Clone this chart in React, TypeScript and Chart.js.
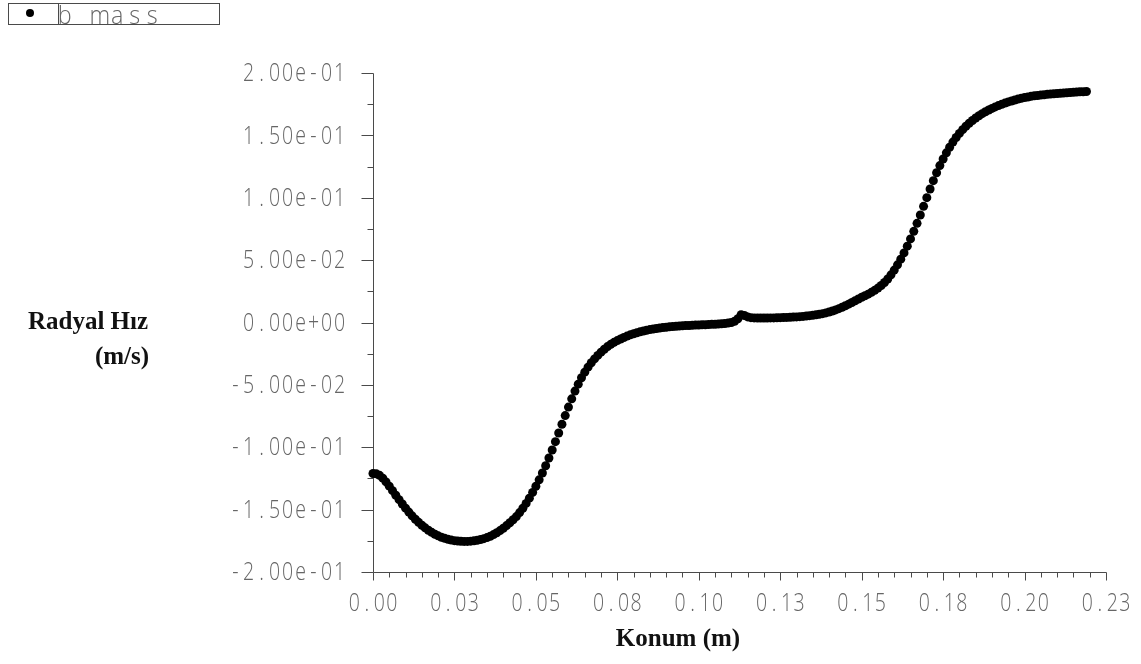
import { useEffect, useRef } from "react";
import { Chart, registerables } from "chart.js";

Chart.register(...registerables);

// Sample positions along the channel, in millimetres.
const POSITION_MM = [
  0, 1, 2, 3, 4, 5, 6, 7, 8, 9, 10, 11, 12, 13, 14, 15, 16, 17, 18, 19,
  20, 21, 22, 23, 24, 25, 26, 27, 28, 29, 30, 31, 32, 33, 34, 35, 36, 37, 38, 39,
  40, 41, 42, 43, 44, 45, 46, 47, 48, 49, 50, 51, 52, 53, 54, 55, 56, 57, 58, 59,
  60, 61, 62, 63, 64, 65, 66, 67, 68, 69, 70, 71, 72, 73, 74, 75, 76, 77, 78, 79,
  80, 81, 82, 83, 84, 85, 86, 87, 88, 89, 90, 91, 92, 93, 94, 95, 96, 97, 98, 99,
  100, 101, 102, 103, 104, 105, 106, 107, 108, 109, 110, 111, 112, 113, 114, 115, 116, 117, 118, 119,
  120, 121, 122, 123, 124, 125, 126, 127, 128, 129, 130, 131, 132, 133, 134, 135, 136, 137, 138, 139,
  140, 141, 142, 143, 144, 145, 146, 147, 148, 149, 150, 151, 152, 153, 154, 155, 156, 157, 158, 159,
  160, 161, 162, 163, 164, 165, 166, 167, 168, 169, 170, 171, 172, 173, 174, 175, 176, 177, 178, 179,
  180, 181, 182, 183, 184, 185, 186, 187, 188, 189, 190, 191, 192, 193, 194, 195, 196, 197, 198, 199,
  200, 201, 202, 203, 204, 205, 206, 207, 208, 209, 210, 211, 212, 213, 214, 215, 216, 217, 218, 219,
];

// Radial velocity (m/s) at each position above.
const RADIAL_VELOCITY = [
  -0.1210, -0.1213, -0.1225, -0.1248, -0.1278, -0.1312, -0.1348, -0.1385, -0.1420, -0.1455,
  -0.1488, -0.1520, -0.1550, -0.1577, -0.1602, -0.1625, -0.1646, -0.1665, -0.1682, -0.1697,
  -0.1710, -0.1721, -0.1730, -0.1738, -0.1744, -0.1749, -0.1752, -0.1754, -0.1755, -0.1755,
  -0.1753, -0.1750, -0.1746, -0.1740, -0.1733, -0.1724, -0.1713, -0.1700, -0.1685, -0.1668,
  -0.1649, -0.1628, -0.1605, -0.1581, -0.1556, -0.1524, -0.1489, -0.1450, -0.1408, -0.1362,
  -0.1313, -0.1261, -0.1206, -0.1148, -0.1086, -0.1022, -0.0955, -0.0886, -0.0816, -0.0746,
  -0.0678, -0.0612, -0.0550, -0.0494, -0.0443, -0.0398, -0.0358, -0.0323, -0.0292, -0.0264,
  -0.0238, -0.0214, -0.0193, -0.0175, -0.0159, -0.0145, -0.0132, -0.0120, -0.0109, -0.0099,
  -0.0090, -0.0082, -0.0075, -0.0068, -0.0062, -0.0057, -0.0052, -0.0048, -0.0044, -0.0041,
  -0.0038, -0.0035, -0.0033, -0.0031, -0.0029, -0.0027, -0.0025, -0.0024, -0.0022, -0.0021,
  -0.0020, -0.0019, -0.0018, -0.0017, -0.0015, -0.0014, -0.0012, -0.0010, -0.0008, -0.0005,
  0.0000, 0.0010, 0.0030, 0.0062, 0.0056, 0.0045, 0.0039, 0.0037, 0.0036, 0.0036,
  0.0036, 0.0036, 0.0037, 0.0037, 0.0038, 0.0039, 0.0040, 0.0041, 0.0042, 0.0044,
  0.0045, 0.0047, 0.0049, 0.0052, 0.0055, 0.0058, 0.0062, 0.0066, 0.0071, 0.0077,
  0.0084, 0.0092, 0.0101, 0.0111, 0.0122, 0.0134, 0.0147, 0.0160, 0.0174, 0.0188,
  0.0202, 0.0214, 0.0227, 0.0242, 0.0258, 0.0276, 0.0297, 0.0321, 0.0349, 0.0382,
  0.0420, 0.0462, 0.0508, 0.0558, 0.0612, 0.0670, 0.0731, 0.0795, 0.0862, 0.0931,
  0.1001, 0.1070, 0.1137, 0.1200, 0.1258, 0.1311, 0.1360, 0.1405, 0.1446, 0.1483,
  0.1516, 0.1546, 0.1573, 0.1597, 0.1619, 0.1639, 0.1657, 0.1674, 0.1689, 0.1703,
  0.1716, 0.1728, 0.1739, 0.1749, 0.1759, 0.1768, 0.1776, 0.1784, 0.1791, 0.1797,
  0.1803, 0.1808, 0.1813, 0.1817, 0.1820, 0.1823, 0.1826, 0.1829, 0.1831, 0.1833,
  0.1835, 0.1837, 0.1839, 0.1841, 0.1843, 0.1845, 0.1847, 0.1849, 0.1850, 0.1852,
];

const SERIES_LABEL = "b mass";

const X_TICKS = [0, 0.025, 0.05, 0.075, 0.1, 0.125, 0.15, 0.175, 0.2, 0.225];
const X_TICK_LABELS = ["0.00", "0.03", "0.05", "0.08", "0.10", "0.13", "0.15", "0.18", "0.20", "0.23"];
const X_MINOR_PER_MAJOR = 5;

const Y_TICKS = [0.2, 0.15, 0.1, 0.05, 0, -0.05, -0.1, -0.15, -0.2];
const Y_TICK_LABELS = [
  "2.00e-01", "1.50e-01", "1.00e-01", "5.00e-02", "0.00e+00",
  "-5.00e-02", "-1.00e-01", "-1.50e-01", "-2.00e-01",
];
const Y_MINOR_PER_MAJOR = 2;

const Y_TITLE_LINES = ["Radyal Hız", "(m/s)"];
const X_TITLE = "Konum (m)";

const AXIS_COLOR = "#4a4a4a";
const TICK_TEXT_COLOR = "#666666";
const TICK_FONT = "300 25px 'Open Sans', 'DejaVu Sans', sans-serif";
const LEGEND_FONT = "300 26px 'Open Sans', 'DejaVu Sans', sans-serif";
const TITLE_FONT = "bold 25px 'Liberation Serif', serif";

// Draws text on a fixed character grid with narrowed glyphs, like a plotter stroke font.
function drawGridText(
  ctx: CanvasRenderingContext2D,
  text: string,
  x: number,
  y: number,
  advance: number,
  align: "left" | "right" | "center",
  squeeze: number,
) {
  const total = advance * text.length;
  const start = align === "left" ? x : align === "right" ? x - total : x - total / 2;
  ctx.textAlign = "center";
  for (let i = 0; i < text.length; i++) {
    ctx.save();
    ctx.translate(start + advance * (i + 0.5), y);
    ctx.scale(squeeze, 1);
    ctx.fillText(text[i], 0, 0);
    ctx.restore();
  }
}

const framePlugin = {
  id: "plotterFrame",
  beforeDatasetsDraw(chart: any) {
    const { ctx, scales } = chart;
    const xs = scales.x;
    const ys = scales.y;
    const ax = Math.round(xs.getPixelForValue(0)) + 0.5;
    const ay = Math.round(ys.getPixelForValue(-0.2)) + 0.5;
    const yTop = Math.round(ys.getPixelForValue(0.2)) + 0.5;
    const xRight = Math.round(xs.getPixelForValue(0.225)) + 0.5;

    ctx.save();
    ctx.strokeStyle = AXIS_COLOR;
    ctx.lineWidth = 1;
    ctx.beginPath();
    // vertical axis
    ctx.moveTo(ax, yTop);
    ctx.lineTo(ax, ay);
    // horizontal axis
    ctx.moveTo(ax, ay);
    ctx.lineTo(xRight, ay);

    // y ticks (major + minor), pointing left
    for (let i = 0; i < Y_TICKS.length; i++) {
      const py = Math.round(ys.getPixelForValue(Y_TICKS[i])) + 0.5;
      ctx.moveTo(ax - 12, py);
      ctx.lineTo(ax, py);
      if (i < Y_TICKS.length - 1) {
        const step = (Y_TICKS[i + 1] - Y_TICKS[i]) / Y_MINOR_PER_MAJOR;
        for (let k = 1; k < Y_MINOR_PER_MAJOR; k++) {
          const my = Math.round(ys.getPixelForValue(Y_TICKS[i] + step * k)) + 0.5;
          ctx.moveTo(ax - 6, my);
          ctx.lineTo(ax, my);
        }
      }
    }

    // x ticks (major + minor), pointing down
    for (let i = 0; i < X_TICKS.length; i++) {
      const px = Math.round(xs.getPixelForValue(X_TICKS[i])) + 0.5;
      ctx.moveTo(px, ay);
      ctx.lineTo(px, ay + 8);
      if (i < X_TICKS.length - 1) {
        const step = (X_TICKS[i + 1] - X_TICKS[i]) / X_MINOR_PER_MAJOR;
        for (let k = 1; k < X_MINOR_PER_MAJOR; k++) {
          const mx = Math.round(xs.getPixelForValue(X_TICKS[i] + step * k)) + 0.5;
          ctx.moveTo(mx, ay);
          ctx.lineTo(mx, ay + 5);
        }
      }
    }
    ctx.stroke();
    ctx.restore();
  },
  afterDraw(chart: any) {
    const { ctx, scales } = chart;
    const xs = scales.x;
    const ys = scales.y;
    const ax = xs.getPixelForValue(0);
    const ay = ys.getPixelForValue(-0.2);

    ctx.save();
    ctx.fillStyle = TICK_TEXT_COLOR;
    ctx.font = TICK_FONT;
    ctx.textBaseline = "middle";
    for (let i = 0; i < Y_TICKS.length; i++) {
      drawGridText(ctx, Y_TICK_LABELS[i], ax - 27, ys.getPixelForValue(Y_TICKS[i]) + 1, 13, "right", 0.78);
    }
    for (let i = 0; i < X_TICKS.length; i++) {
      drawGridText(ctx, X_TICK_LABELS[i], xs.getPixelForValue(X_TICKS[i]), ay + 32, 12.5, "center", 0.78);
    }

    // legend box
    ctx.strokeStyle = AXIS_COLOR;
    ctx.lineWidth = 1;
    ctx.strokeRect(8.5, 3.5, 211, 21);
    ctx.beginPath();
    ctx.moveTo(58.5, 3.5);
    ctx.lineTo(58.5, 24.5);
    ctx.stroke();
    ctx.fillStyle = "#000";
    ctx.beginPath();
    ctx.arc(30, 13, 4, 0, Math.PI * 2);
    ctx.fill();
    ctx.fillStyle = TICK_TEXT_COLOR;
    ctx.font = LEGEND_FONT;
    ctx.textBaseline = "alphabetic";
    drawGridText(ctx, chart.data.datasets[0].label, 56, 24, 17.5, "left", 0.9);

    // axis titles
    ctx.fillStyle = "#111";
    ctx.font = TITLE_FONT;
    ctx.textAlign = "center";
    ctx.textBaseline = "middle";
    ctx.fillText(Y_TITLE_LINES[0], 88, 323);
    ctx.fillText(Y_TITLE_LINES[1], 122, 358);
    ctx.fillText(X_TITLE, 678, 640);
    ctx.restore();
  },
};

export default function App() {
  const canvasRef = useRef<HTMLCanvasElement>(null);

  useEffect(() => {
    const canvas = canvasRef.current;
    if (!canvas) return;
    const points = POSITION_MM.map((mm, i) => ({ x: mm / 1000, y: RADIAL_VELOCITY[i] }));
    const chart = new Chart(canvas, {
      type: "scatter",
      data: {
        datasets: [
          {
            label: SERIES_LABEL,
            data: points,
            pointRadius: 4.5,
            pointBackgroundColor: "#000",
            pointBorderColor: "#000",
            pointBorderWidth: 0,
            showLine: false,
            clip: false,
          } as any,
        ],
      },
      options: {
        responsive: false,
        animation: false,
        devicePixelRatio: 1,
        events: [],
        layout: { padding: { left: 373, right: 35, top: 73, bottom: 92 } },
        plugins: {
          legend: { display: false },
          tooltip: { enabled: false },
        },
        scales: {
          x: { type: "linear", min: 0, max: 0.225, display: false },
          y: { type: "linear", min: -0.2, max: 0.2, display: false },
        },
      },
      plugins: [framePlugin],
    });
    return () => chart.destroy();
  }, []);

  return (
    <div style={{ position: "fixed", left: 0, top: 0, width: 1141, height: 664, background: "#fff" }}>
      <canvas ref={canvasRef} width={1141} height={664} style={{ display: "block" }} />
    </div>
  );
}
